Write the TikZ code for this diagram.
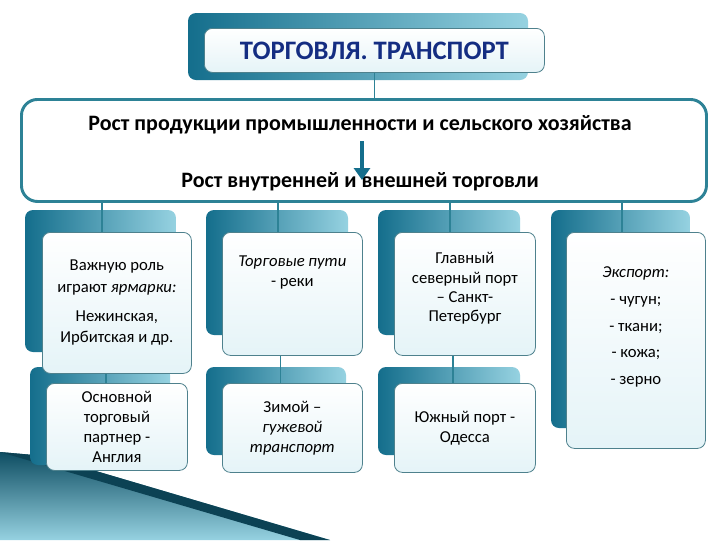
\documentclass[tikz,border=0pt]{standalone}
\usepackage{fontspec}
\usetikzlibrary{arrows.meta}
\setmainfont{Carlito}
\definecolor{tealD}{RGB}{20,110,140}
\definecolor{tealL}{RGB}{150,210,225}
\definecolor{bord}{RGB}{45,130,150}
\definecolor{ttl}{RGB}{20,45,130}
\tikzset{
 back/.style={rounded corners=6pt,left color=tealD,right color=tealL,draw=none},
 front/.style={rounded corners=6pt,draw=bord!60!gray,line width=0.6pt,top color=white,bottom color=tealL!25,align=center,font=\fontsize{12.5}{15}\selectfont},
 conn/.style={draw=bord,line width=1.2pt}
}
\begin{document}
\begin{tikzpicture}[x=0.75pt,y=-0.75pt]
\useasboundingbox (0,0) rectangle (720,540);
\fill[white] (0,0) rectangle (720,540);
% decorative wedge
\shade[left color=tealD!70!black,right color=tealL,shading angle=0] (0,452) -- (45,456) -- (330,540) -- (0,540) -- cycle;
\fill[tealD!60!black] (0,452) -- (45,456) -- (330,540) -- (300,540) -- cycle;
% title
\shade[back] (188,13) rectangle (528,80);
\node[front,minimum width=255pt,minimum height=33pt,anchor=north west,inner sep=0pt] (title) at (204,28) {};
\node[font=\fontsize{20}{22}\selectfont\bfseries,text=ttl] (tt) at (title.center) {ТОРГОВЛЯ. ТРАНСПОРТ};
% main box
\node[draw=bord,line width=2.2pt,rounded corners=12pt,fill=white,minimum width=513.75pt,minimum height=76.5pt,anchor=north west,inner sep=0pt] (main) at (20,98) {};
\draw[conn] (title.south) -- (main.north -| title.south);
\node[font=\fontsize{16.5}{18}\selectfont\bfseries] (l1) at (360,125) {Рост продукции промышленности и сельского хозяйства};
\node[font=\fontsize{16.5}{18}\selectfont\bfseries] (l2) at (360,182) {Рост внутренней и внешней торговли};
\coordinate (a1) at (362,141);
\coordinate (a2) at (362,180);
\draw[draw=tealD,line width=3pt,-{Triangle[width=12pt,length=9pt]}] (a1) -- (a2);
% columns: back tabs
\shade[back] (25,210) rectangle (176,352);
\shade[back] (206,210) rectangle (348,335);
\shade[back] (378,210) rectangle (520,335);
\shade[back] (551,210) rectangle (690,428);
\shade[back] (30,367) rectangle (170,465);
\shade[back] (206,367) rectangle (346,455);
\shade[back] (378,367) rectangle (520,455);
% connectors behind boxes
\coordinate (m1) at (102,200); \coordinate (m2) at (278,200);
\coordinate (m3) at (450,200); \coordinate (m4) at (622,200);
% front boxes
\node[front,anchor=north west,minimum width=111.75pt,minimum height=105.75pt,inner sep=0pt] (c1) at (42,232) {};
\node[align=center,font=\fontsize{12.5}{16}\selectfont] (c1t) at (c1.center) {Важную роль\\играют \textit{ярмарки:}\\[6pt]Нежинская,\\Ирбитская и др.};
\node[front,anchor=north west,minimum width=105pt,minimum height=92.25pt,inner sep=0pt] (c2) at (222,232) {};
\node[align=center,font=\fontsize{12.5}{15}\selectfont] (c2t) at ([yshift=16pt]c2.center) {\textit{Торговые пути}\\- реки};
\node[front,anchor=north west,minimum width=105.75pt,minimum height=92.25pt,inner sep=0pt] (c3) at (394,232) {};
\node[align=center,font=\fontsize{12.5}{14.5}\selectfont] (c3t) at ([yshift=4pt]c3.center) {Главный\\северный порт\\– Санкт-\\Петербург};
\node[front,anchor=north west,minimum width=104.25pt,minimum height=162pt,inner sep=0pt] (c4) at (566,232) {};
\node[align=center,font=\fontsize{12.5}{20}\selectfont] (c4t) at ([yshift=10pt]c4.center) {\textit{Экспорт:}\\- чугун;\\- ткани;\\- кожа;\\- зерно};
\node[front,anchor=north west,minimum width=105.75pt,minimum height=65.25pt,inner sep=0pt] (d1) at (46,383) {Основной\\торговый\\партнер -\\Англия};
\node[front,anchor=north west,minimum width=105pt,minimum height=66.75pt,inner sep=0pt] (d2) at (222,383) {Зимой –\\\textit{гужевой}\\\textit{транспорт}};
\node[front,anchor=north west,minimum width=105.75pt,minimum height=66.75pt,inner sep=0pt] (d3) at (394,383) {Южный порт -\\Одесса};
\draw[conn] (m1) -- (m1 |- c1.north);
\draw[conn] (m2) -- (m2 |- c2.north);
\draw[conn] (m3) -- (m3 |- c3.north);
\draw[conn] (m4) -- (m4 |- c4.north);
\draw[conn] ([xshift=-8pt]c1.south) -- ([xshift=-8pt]c1.south |- d1.north);
\draw[conn] ([xshift=-9pt]c2.south) -- ([xshift=-9pt]c2.south |- d2.north);
\draw[conn] ([xshift=-9pt]c3.south) -- ([xshift=-9pt]c3.south |- d3.north);
\end{tikzpicture}
\end{document}
